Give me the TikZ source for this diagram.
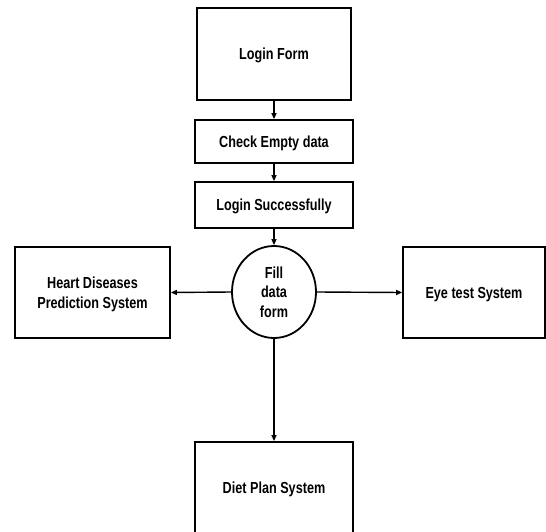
\documentclass[tikz,border=0pt]{standalone}
\usepackage{fontspec}
\setmainfont[FakeStretch=0.79]{Liberation Sans}
\usetikzlibrary{arrows.meta,shapes.geometric}
\tikzset{
  box/.style={draw, line width=1.8pt, inner sep=0pt, align=center, text depth=0pt, font=\bfseries\fontsize{16}{20}\selectfont},
  oval/.style={draw, ellipse, line width=1.8pt, inner sep=0pt, align=center, text depth=0pt, minimum width=84pt, minimum height=92pt, font=\bfseries\fontsize{16}{19.5}\selectfont},
  arr/.style={line width=1.4pt, -{Triangle[length=6pt,width=5pt]}}
}
\begin{document}
\begin{tikzpicture}[x=1pt,y=-1pt]
\fill[white] (0,0) rectangle (546,532);
\useasboundingbox (0,0) rectangle (546,532);
\clip (0,0) rectangle (546,532);
\node[box, minimum width=154pt, minimum height=92pt] (login) at (274,54) {Login Form};
\node[box, minimum width=158pt, minimum height=43pt] (check) at (274,141.5) {Check Empty data};
\node[box, minimum width=158pt, minimum height=46pt] (succ) at (274,205) {Login Successfully};
\node[oval] (fill) at (274,292) {Fill\\data\\form};
\node[box, minimum width=155pt, minimum height=91pt] (heart) at (92.5,292.5) {Heart Diseases\\Prediction System};
\node[box, minimum width=142pt, minimum height=91pt] (eye) at (474,292.5) {Eye test System};
\node[box, minimum width=158pt, minimum height=92pt] (diet) at (274,488) {Diet Plan System};
\draw[arr] (login.south) -- (check.north);
\draw[arr] (check.south) -- (succ.north);
\draw[arr] (succ.south) -- (fill.north);
\draw[arr] (fill.west) -- (heart.east);
\draw[arr] (fill.east) -- (eye.west);
\draw[arr] (fill.south) -- (diet.north);
\end{tikzpicture}
\end{document}
